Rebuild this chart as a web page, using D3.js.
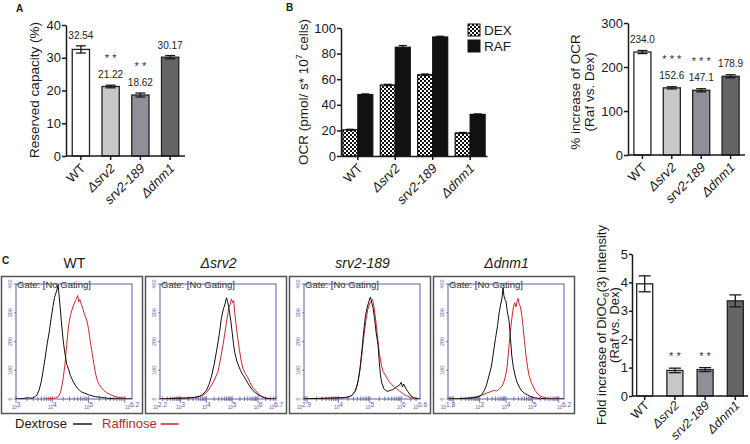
<!DOCTYPE html>
<html><head><meta charset="utf-8">
<script src="https://cdn.jsdelivr.net/npm/d3@7"></script>
<style>body{margin:0;background:#fff;} svg{display:block;font-family:"Liberation Sans",Arial,sans-serif;}</style>
</head><body><svg id="c" width="750" height="444"></svg>
<script>
// ---------------- DATA ----------------
const strains = ["WT", "\u0394srv2", "srv2-189", "\u0394dnm1"];
const strainItalic = [false, true, true, true];
const barColors = ["#ffffff", "#c8c8c8", "#8f8f97", "#656565"];

// Panel A
const reservedValues = [32.54, 21.22, 18.62, 30.17];
const reservedErrors = [1.1, 0.4, 0.6, 0.5];
const reservedLabels = ["32.54", "21.22", "18.62", "30.17"];
const reservedStars = ["", "* *", "* *", ""];
const reservedTicks = [0, 10, 20, 30, 40];

// Panel B (left)
const ocrSeries = ["DEX", "RAF"];
const ocrDex = [20.5, 55.5, 63.5, 18.0];
const ocrRaf = [48.0, 85.0, 93.0, 32.5];
const ocrDexErr = [0.4, 0.5, 0.6, 0.4];
const ocrRafErr = [0.5, 1.3, 0.6, 0.4];
const ocrTicks = [0, 20, 40, 60, 80, 100];

// Panel B (right)
const ocrIncrease = [234.0, 152.6, 147.1, 178.9];
const ocrIncreaseErr = [3.5, 2.5, 3.5, 3.5];
const ocrIncreaseLabels = ["234.0", "152.6", "147.1", "178.9"];
const ocrIncreaseStars = ["", "* * *", "* * *", ""];
const ocrIncreaseTicks = [0, 100, 200, 300];

// Panel C (bar)
const diocValues = [3.95, 0.90, 0.93, 3.35];
const diocErrors = [0.28, 0.08, 0.07, 0.21];
const diocStars = ["", "* *", "* *", ""];
const diocTicks = [0, 1, 2, 3, 4, 5];

// Panel C (flow histograms) : [log10 intensity, count]
const flowDomains = [[3, 6.2], [2.2, 6.7], [2.9, 6.6], [1.8, 6.2]];
const flowTickExps = [["3", "4", "5", "6.2"], ["2.2", "3", "4", "5", "6", "6.7"], ["2.9", "4", "5", "6", "6.6"], ["1.8", "3", "4", "5", "6.2"]];
const flowCountTicks = [0, 100, 200, 300, 400];
const flowLegend = ["Dextrose", "Raffinose"];

const wtDex = [[3.0,0],[3.2,2],[3.35,4],[3.45,3],[3.52,8],[3.58,14],[3.64,32],[3.7,62],[3.75,100],[3.8,140],[3.86,192],[3.92,236],[3.97,282],[4.02,322],[4.06,352],[4.1,368],[4.13,380],[4.16,398],[4.18,372],[4.21,330],[4.25,272],[4.3,205],[4.35,158],[4.4,120],[4.45,104],[4.5,82],[4.58,60],[4.65,45],[4.72,34],[4.8,25],[4.9,20],[5.0,15],[5.1,11],[5.2,8],[5.35,6],[5.5,3],[5.7,1],[6.0,0],[6.2,0]];
const wtRaf = [[3.8,0],[4.0,2],[4.1,4],[4.18,10],[4.24,28],[4.3,70],[4.35,120],[4.4,190],[4.45,255],[4.5,290],[4.55,312],[4.6,330],[4.64,342],[4.67,350],[4.7,360],[4.73,338],[4.76,346],[4.8,330],[4.85,312],[4.9,290],[4.95,275],[5.0,245],[5.05,200],[5.1,160],[5.15,120],[5.2,85],[5.25,62],[5.3,50],[5.35,40],[5.42,30],[5.5,22],[5.6,16],[5.7,10],[5.8,6],[5.95,3],[6.1,1],[6.2,0]];
const srv2Dex = [[2.2,0],[2.8,2],[3.2,3],[3.5,5],[3.7,8],[3.85,15],[4.0,30],[4.1,50],[4.2,80],[4.3,120],[4.4,170],[4.5,225],[4.58,280],[4.65,310],[4.72,330],[4.78,352],[4.82,340],[4.86,322],[4.9,300],[4.95,270],[5.0,232],[5.05,192],[5.1,162],[5.18,132],[5.25,115],[5.32,100],[5.4,86],[5.5,72],[5.6,56],[5.7,42],[5.8,30],[5.9,22],[6.0,15],[6.1,10],[6.25,4],[6.4,1],[6.7,0]];
const srv2Raf = [[2.2,0],[2.8,3],[3.3,4],[3.6,6],[3.85,12],[4.0,22],[4.15,40],[4.3,65],[4.45,95],[4.55,140],[4.65,190],[4.75,250],[4.82,290],[4.88,320],[4.93,330],[4.97,348],[5.02,335],[5.06,342],[5.1,300],[5.15,260],[5.2,222],[5.28,172],[5.35,132],[5.42,106],[5.5,90],[5.6,75],[5.7,56],[5.8,40],[5.9,30],[6.0,20],[6.1,12],[6.2,7],[6.35,3],[6.5,1],[6.7,0]];
const s189Dex = [[2.9,0],[3.3,2],[3.7,3],[4.0,4],[4.2,5],[4.35,8],[4.45,15],[4.55,30],[4.62,60],[4.68,100],[4.74,160],[4.8,230],[4.86,290],[4.92,320],[4.97,340],[5.02,355],[5.06,335],[5.1,318],[5.15,280],[5.2,232],[5.26,190],[5.3,130],[5.34,82],[5.38,56],[5.45,36],[5.52,28],[5.58,27],[5.65,30],[5.74,33],[5.82,40],[5.9,45],[5.96,50],[6.0,58],[6.04,42],[6.08,52],[6.14,38],[6.22,25],[6.3,12],[6.4,5],[6.5,1],[6.6,0]];
const s189Raf = [[2.9,0],[3.4,2],[3.8,3],[4.1,4],[4.3,6],[4.42,12],[4.52,25],[4.6,50],[4.67,90],[4.73,140],[4.8,210],[4.87,270],[4.93,310],[4.99,330],[5.04,340],[5.09,346],[5.13,322],[5.18,282],[5.24,222],[5.3,162],[5.36,122],[5.42,96],[5.48,86],[5.55,72],[5.62,60],[5.7,50],[5.78,42],[5.86,35],[5.94,28],[6.02,22],[6.1,15],[6.2,10],[6.3,5],[6.42,2],[6.6,0]];
const dnm1Dex = [[1.8,0],[2.2,1],[2.5,2],[2.7,3],[2.9,6],[3.05,12],[3.15,25],[3.25,45],[3.35,80],[3.45,115],[3.52,160],[3.6,210],[3.68,255],[3.74,300],[3.8,330],[3.85,352],[3.89,386],[3.92,360],[3.96,346],[4.0,340],[4.04,310],[4.08,290],[4.12,270],[4.17,210],[4.22,150],[4.28,110],[4.35,80],[4.42,58],[4.5,42],[4.6,28],[4.7,20],[4.8,15],[4.95,8],[5.1,4],[5.3,2],[5.6,0],[6.2,0]];
const dnm1Raf = [[1.8,0],[2.3,2],[2.6,4],[2.9,8],[3.1,14],[3.25,20],[3.4,25],[3.55,30],[3.65,28],[3.75,35],[3.85,45],[3.92,60],[3.98,80],[4.04,110],[4.1,170],[4.16,230],[4.22,280],[4.28,320],[4.33,335],[4.38,320],[4.42,340],[4.46,350],[4.5,330],[4.55,320],[4.6,290],[4.65,250],[4.7,200],[4.76,150],[4.82,110],[4.88,80],[4.95,60],[5.02,45],[5.1,30],[5.2,18],[5.3,10],[5.45,5],[5.6,2],[5.8,0],[6.2,0]];
const flowDex = [wtDex, srv2Dex, s189Dex, dnm1Dex];
const flowRaf = [wtRaf, srv2Raf, s189Raf, dnm1Raf];

// ---------------- DRAWING ----------------
const svg = d3.select("#c");
const defs = svg.append("defs");
const pat = defs.append("pattern").attr("id", "checker").attr("patternUnits", "userSpaceOnUse")
  .attr("width", 4).attr("height", 4);
pat.append("rect").attr("width", 4).attr("height", 4).attr("fill", "#fff");
pat.append("rect").attr("width", 2).attr("height", 2).attr("fill", "#111");
pat.append("rect").attr("x", 2).attr("y", 2).attr("width", 2).attr("height", 2).attr("fill", "#111");

const ink = "#1a1a1a";
function styleAxis(g, fs) {
  g.selectAll("path.domain").attr("stroke", ink).attr("stroke-width", 1.5);
  g.selectAll(".tick line").attr("stroke", ink).attr("stroke-width", 1.5);
  g.selectAll(".tick text").attr("font-size", fs || 13).attr("fill", ink)
    .attr("font-family", '"Liberation Sans",Arial,sans-serif');
}

function xLabels(g, x, y0, fs, off) {
  strains.forEach((s, i) => {
    g.append("text")
      .attr("transform", `translate(${x(s) + x.bandwidth() / 2 + 2},${y0 + off}) rotate(-45)`)
      .attr("text-anchor", "end").attr("dy", "0.35em")
      .attr("font-size", fs).attr("fill", ink)
      .attr("font-style", strainItalic[i] ? "italic" : "normal")
      .text(s);
  });
}

function barChart(o) {
  const g = svg.append("g");
  const x = d3.scaleBand().domain(strains).range([o.x0, o.x1]).paddingInner(o.pi).paddingOuter(o.po);
  const y = d3.scaleLinear().domain([0, o.max]).range([o.y0, o.y1]);
  g.selectAll("rect.bar").data(o.values).join("rect").attr("class", "bar")
    .attr("x", (d, i) => x(strains[i])).attr("y", d => y(d))
    .attr("width", x.bandwidth()).attr("height", d => y(0) - y(d))
    .attr("fill", (d, i) => barColors[i]).attr("stroke", "#222").attr("stroke-width", 1.3);
  const cap = o.cap;
  o.values.forEach((v, i) => {
    const cx = x(strains[i]) + x.bandwidth() / 2;
    const e = o.errors[i];
    g.append("line").attr("x1", cx).attr("x2", cx).attr("y1", y(v - e)).attr("y2", y(v + e)).attr("stroke", ink).attr("stroke-width", 1.3);
    [v - e, v + e].forEach(w => g.append("line").attr("x1", cx - cap).attr("x2", cx + cap).attr("y1", y(w)).attr("y2", y(w)).attr("stroke", ink).attr("stroke-width", 1.3));
    let ty = y(v + e) - o.labelGap;
    if (o.labels) {
      g.append("text").attr("x", cx).attr("y", ty).attr("text-anchor", "middle").attr("font-size", 10).attr("fill", "#222").text(o.labels[i]);
      ty -= o.starGap;
    }
    if (o.stars[i]) {
      g.append("text").attr("x", cx).attr("y", ty).attr("text-anchor", "middle").attr("font-size", 11).attr("fill", "#333").text(o.stars[i]);
    }
  });
  const ya = g.append("g").attr("transform", `translate(${o.x0},0)`)
    .call(d3.axisLeft(y).tickValues(o.ticks).tickSize(o.tick || 4).tickSizeOuter(0).tickPadding(o.tpad == null ? 1 : o.tpad).tickFormat(d3.format("d")));
  styleAxis(ya, o.tfs);
  const xa = g.append("g").attr("transform", `translate(0,${o.y0})`)
    .call(d3.axisBottom(x).tickSize(4).tickSizeOuter(0).tickFormat(""));
  styleAxis(xa);
  xa.select("path.domain").attr("d", `M${o.x0},0H${o.x1}`);
  xLabels(g, x, o.y0, o.xfs || 13, o.xoff || 10);
  return { x, y, g };
}

// Panel labels
const pl = [["A", 16, 12], ["B", 286, 11], ["C", 2, 264]];
pl.forEach(p => svg.append("text").attr("x", p[1]).attr("y", p[2]).attr("font-size", 10).attr("font-weight", "bold").attr("fill", ink).text(p[0]));

// ---- Panel A
barChart({ x0: 66, x1: 185, y0: 156, y1: 25, max: 40, pi: 0.42, po: 0.21, values: reservedValues, errors: reservedErrors,
  labels: reservedLabels, stars: reservedStars, ticks: reservedTicks, cap: 5, labelGap: 7, starGap: 16 });
svg.append("text").attr("transform", "translate(39,90) rotate(-90)").attr("text-anchor", "middle")
  .attr("font-size", 13.5).attr("fill", ink).text("Reserved capacity (%)");

// ---- Panel B left (grouped)
{
  const g = svg.append("g");
  const x = d3.scaleBand().domain(strains).range([341, 487]).paddingInner(0.2).paddingOuter(0.05);
  const xs = d3.scaleBand().domain(ocrSeries).range([0, x.bandwidth()]);
  const y = d3.scaleLinear().domain([0, 100]).range([156, 28]);
  const fills = ["url(#checker)", "#111"];
  [ocrDex, ocrRaf].forEach((vals, si) => {
    const errs = si === 0 ? ocrDexErr : ocrRafErr;
    vals.forEach((v, i) => {
      const bx = x(strains[i]) + xs(ocrSeries[si]);
      g.append("rect").attr("x", bx).attr("y", y(v)).attr("width", xs.bandwidth()).attr("height", y(0) - y(v))
        .attr("fill", fills[si]).attr("stroke", "#111").attr("stroke-width", 1.2);
      const cx = bx + xs.bandwidth() / 2;
      const e = errs[i];
      g.append("line").attr("x1", cx).attr("x2", cx).attr("y1", y(v - e)).attr("y2", y(v + e)).attr("stroke", "#111").attr("stroke-width", 1.2);
      [v - e, v + e].forEach(w => g.append("line").attr("x1", cx - 4).attr("x2", cx + 4).attr("y1", y(w)).attr("y2", y(w)).attr("stroke", "#111").attr("stroke-width", 1.2));
    });
  });
  const ya = g.append("g").attr("transform", "translate(341,0)")
    .call(d3.axisLeft(y).tickValues(ocrTicks).tickSize(4).tickSizeOuter(0).tickPadding(1));
  styleAxis(ya);
  const xa = g.append("g").attr("transform", "translate(0,156)").call(d3.axisBottom(x).tickSize(4).tickSizeOuter(0).tickFormat(""));
  styleAxis(xa);
  xLabels(g, x, 156, 13, 10);
  const yl = svg.append("text").attr("transform", "translate(308,92) rotate(-90)").attr("text-anchor", "middle")
    .attr("font-size", 13.5).attr("fill", ink);
  yl.append("tspan").text("OCR (pmol/ s* 10");
  yl.append("tspan").attr("font-size", 9).attr("dy", -6).text("7");
  yl.append("tspan").attr("dy", 6).text(" cells)");
  // legend
  ocrSeries.forEach((s, i) => {
    svg.append("rect").attr("x", 468).attr("y", 24 + i * 16).attr("width", 12).attr("height", 12)
      .attr("fill", fills[i]).attr("stroke", "#111").attr("stroke-width", 1);
    svg.append("text").attr("x", 484).attr("y", 35 + i * 16).attr("font-size", 13.5).attr("fill", ink).text(s);
  });
}

// ---- Panel B right
barChart({ x0: 628, x1: 745, y0: 155, y1: 23, max: 300, pi: 0.42, po: 0.2, values: ocrIncrease, errors: ocrIncreaseErr,
  labels: ocrIncreaseLabels, stars: ocrIncreaseStars, ticks: ocrIncreaseTicks, cap: 5, labelGap: 8, starGap: 16 });
[["% increase of OCR", 580], ["(Raf vs. Dex)", 594]].forEach(t =>
  svg.append("text").attr("transform", `translate(${t[1]},92) rotate(-90)`).attr("text-anchor", "middle")
    .attr("font-size", 13.5).attr("fill", ink).text(t[0]));

// ---- Panel C bar
barChart({ x0: 632, x1: 748, y0: 396, y1: 254, max: 5, pi: 0.47, po: 0.155, values: diocValues, errors: diocErrors,
  labels: null, stars: diocStars, ticks: diocTicks, cap: 6, labelGap: 8, starGap: 0, tick: 3, tpad: 1, tfs: 13,
  xfs: 12.5, xoff: 7 });
{
  const t1 = svg.append("text").attr("transform", "translate(606,325) rotate(-90)").attr("text-anchor", "middle")
    .attr("font-size", 13).attr("fill", ink);
  t1.append("tspan").text("Fold increase of DiOC");
  t1.append("tspan").attr("font-size", 8.5).attr("dy", 3).text("6");
  t1.append("tspan").attr("dy", -3).text("(3) intensity");
  svg.append("text").attr("transform", "translate(619,325) rotate(-90)").attr("text-anchor", "middle")
    .attr("font-size", 13).attr("fill", ink).text("(Raf vs. Dex)");
}

// ---- Panel C flow histograms
const blue = "#5a5eaa";
strains.forEach((s, i) => {
  const bl = 1 + i * 144, bw = 141, bt = 276, bh = 137;
  const fl = bl + 15, fr = bl + bw - 10, ft = 284, fb = 399;
  const g = svg.append("g");
  g.append("text").attr("x", bl + bw / 2 + 3).attr("y", 268).attr("text-anchor", "middle").attr("font-size", 14)
    .attr("font-style", strainItalic[i] ? "italic" : "normal").attr("fill", ink).text(s);
  g.append("rect").attr("x", bl + 0.5).attr("y", bt + 0.5).attr("width", bw).attr("height", bh)
    .attr("fill", "#fff").attr("stroke", "#555").attr("stroke-width", 1.5);
  const [lo, hi] = flowDomains[i];
  const x = d3.scaleLog().domain([Math.pow(10, lo), Math.pow(10, hi)]).range([fl, fr]);
  const y = d3.scaleLinear().domain([0, 400]).range([fb, ft]);
  const cid = "clip" + i;
  defs.append("clipPath").attr("id", cid).append("rect").attr("x", fl).attr("y", ft - 2).attr("width", fr - fl).attr("height", fb - ft + 2);
  g.append("rect").attr("x", fl).attr("y", ft).attr("width", fr - fl).attr("height", fb - ft)
    .attr("fill", "none").attr("stroke", blue).attr("stroke-width", 1);
  for (let k = Math.floor(lo); k <= Math.ceil(hi); k++) {
    for (let m = 1; m <= 9; m++) {
      const v = m * Math.pow(10, k);
      if (v < x.domain()[0] || v > x.domain()[1]) continue;
      const px = x(v);
      g.append("line").attr("x1", px).attr("x2", px).attr("y1", fb - (m === 1 ? 3 : 2.5)).attr("y2", fb + (m === 1 ? 4 : 2))
        .attr("stroke", blue).attr("stroke-width", 0.8);
    }
  }
  flowTickExps[i].forEach(e => {
    const px = x(Math.pow(10, +e));
    const t = g.append("text").attr("x", px).attr("y", fb + 10).attr("text-anchor", "middle").attr("fill", blue);
    t.append("tspan").attr("font-size", 4.5).text("10");
    t.append("tspan").attr("font-size", 6.5).attr("dy", -2.5).text(e);
  });
  flowCountTicks.forEach(c => {
    g.append("line").attr("x1", fl - 2).attr("x2", fl).attr("y1", y(c)).attr("y2", y(c)).attr("stroke", blue).attr("stroke-width", 0.8);
    g.append("text").attr("transform", `translate(${fl - 4},${y(c)}) rotate(-90)`).attr("text-anchor", "middle")
      .attr("font-size", 5.5).attr("fill", blue).text(c);
  });
  const line = d3.line().x(d => x(Math.pow(10, d[0]))).y(d => y(d[1]));
  g.append("path").attr("d", line(flowRaf[i])).attr("fill", "none").attr("stroke", "#cc2a2a").attr("stroke-width", 1).attr("clip-path", `url(#${cid})`);
  g.append("path").attr("d", line(flowDex[i])).attr("fill", "none").attr("stroke", "#111").attr("stroke-width", 1).attr("clip-path", `url(#${cid})`);
  g.append("text").attr("x", fl + 1).attr("y", 287.5).attr("font-size", 9.5).attr("fill", "#333").text("Gate: [No Gating]");
});
// legend
{
  const red = "#c0282d";
  const t0 = svg.append("text").attr("x", 15).attr("y", 428).attr("font-size", 13).attr("fill", ink).text(flowLegend[0]);
  const w0 = t0.node().getComputedTextLength();
  const l0 = 15 + w0 + 6;
  svg.append("line").attr("x1", l0).attr("x2", l0 + 19).attr("y1", 424).attr("y2", 424).attr("stroke", ink).attr("stroke-width", 1.5);
  const t1x = l0 + 19 + 10;
  const t1 = svg.append("text").attr("x", t1x).attr("y", 428).attr("font-size", 13).attr("fill", red).text(flowLegend[1]);
  const w1 = t1.node().getComputedTextLength();
  svg.append("line").attr("x1", t1x + w1 + 4).attr("x2", t1x + w1 + 22).attr("y1", 424).attr("y2", 424).attr("stroke", red).attr("stroke-width", 1.5);
}
</script></body></html>
